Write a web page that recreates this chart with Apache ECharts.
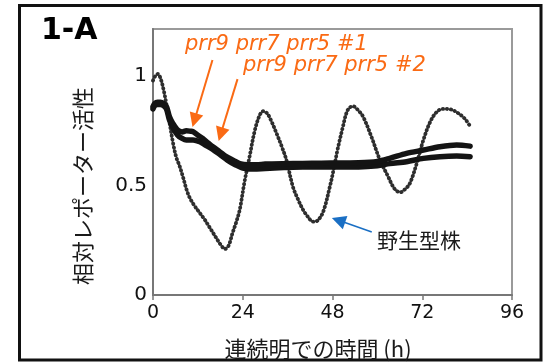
<!DOCTYPE html>
<html>
<head>
<meta charset="utf-8">
<script src="https://cdn.jsdelivr.net/npm/echarts@6/dist/echarts.min.js"></script>
<style>
html,body{margin:0;padding:0;background:#fff;}
#c{width:547px;height:362px;}
</style>
</head>
<body>
<div id="c"></div>
<script>
// x tick labels (hours in continuous light)
var xTicks = [0, 24, 48, 72, 96];
var yTicks = [0, 0.5, 1];

// Wild type (oscillating)
var wtT = [0, 0.6, 1.3, 2.0, 2.8, 3.6, 4.4, 5.3, 6.2, 7.1, 8.0, 9.0, 9.8, 11.0, 12.5, 13.8, 15.1, 16.2, 17.3, 18.3, 19.2, 20.2, 21.3, 22.3, 23.2, 24.5, 25.8, 27.2, 28.5, 29.5, 30.5, 31.5, 33.0, 34.5, 35.7, 37.4, 38.7, 40.1, 41.3, 42.8, 44.0, 45.5, 47.3, 48.5, 49.3, 50.8, 51.7, 52.5, 53.5, 54.8, 56.2, 58.4, 60.7, 62.9, 64.2, 65.2, 66.2, 67.5, 68.7, 70.5, 72.3, 74.1, 75.8, 77.5, 79.5, 81.2, 83.4, 84.8];
var wtV = [0.98, 1.0, 1.01, 0.99, 0.94, 0.87, 0.79, 0.70, 0.63, 0.59, 0.54, 0.48, 0.445, 0.41, 0.375, 0.345, 0.31, 0.28, 0.25, 0.225, 0.21, 0.225, 0.285, 0.335, 0.39, 0.52, 0.63, 0.75, 0.82, 0.84, 0.83, 0.80, 0.74, 0.675, 0.615, 0.495, 0.44, 0.39, 0.36, 0.335, 0.34, 0.38, 0.495, 0.59, 0.66, 0.77, 0.83, 0.855, 0.862, 0.845, 0.814, 0.723, 0.616, 0.54, 0.495, 0.475, 0.47, 0.485, 0.51, 0.60, 0.708, 0.79, 0.835, 0.85, 0.848, 0.835, 0.805, 0.77];

// prr9 prr7 prr5 #1
var m1T = [0, 0.5, 1.2, 2.0, 2.8, 3.6, 4.4, 5.3, 6.6, 7.8, 8.9, 10.0, 10.7, 12.0, 13.3, 14.7, 16.0, 17.8, 19.6, 21.5, 23.2, 25.5, 27.6, 30, 35, 40, 45, 50, 55, 60, 63.3, 67.8, 72.3, 76.7, 81.2, 84.8];
var m1V = [0.86, 0.875, 0.88, 0.88, 0.875, 0.86, 0.814, 0.784, 0.753, 0.745, 0.75, 0.748, 0.746, 0.73, 0.715, 0.695, 0.677, 0.655, 0.632, 0.615, 0.60, 0.595, 0.595, 0.598, 0.60, 0.601, 0.602, 0.603, 0.604, 0.61, 0.624, 0.647, 0.662, 0.677, 0.685, 0.68];

// prr9 prr7 prr5 #2
var m2T = [0, 0.5, 1.2, 2.0, 2.8, 3.6, 4.4, 5.3, 6.6, 7.8, 8.9, 10.7, 12.5, 14, 16, 18, 20, 22, 24, 27, 30, 35, 40, 45, 50, 55, 60, 63.3, 67.8, 72.3, 76.7, 81.2, 84.8];
var m2V = [0.85, 0.865, 0.87, 0.87, 0.865, 0.85, 0.80, 0.765, 0.73, 0.715, 0.708, 0.708, 0.70, 0.685, 0.665, 0.64, 0.615, 0.595, 0.58, 0.575, 0.578, 0.582, 0.585, 0.585, 0.585, 0.585, 0.59, 0.60, 0.609, 0.624, 0.632, 0.635, 0.632];

// annotation arrows [fromX, fromY, toX, toY, color] in data units
var arrows = [
  [15.9, 1.073, 11.1, 0.798, '#FA6A14'],
  [22.6, 0.986, 18.1, 0.734, '#FA6A14'],
  [58.5, 0.288, 49.6, 0.341, '#1A6FC4']
];

function pairs(t, v) { return t.map(function (x, i) { return [x, v[i]]; }); }

var chart = echarts.init(document.getElementById('c'), null, {renderer: 'canvas'});
var orange = '#FA6A14';
var opt = {
  animation: false,
  grid: {left: 153, right: 35, top: 29, bottom: 67, show: true, borderColor: '#9a9a9a', borderWidth: 2, backgroundColor: 'transparent'},
  xAxis: {
    type: 'value', min: xTicks[0], max: xTicks[xTicks.length - 1], interval: 24,
    axisLine: {show: true, lineStyle: {color: '#777', width: 2}},
    axisTick: {show: true, length: 5, lineStyle: {color: '#777', width: 1.5}},
    axisLabel: {color: '#111', fontSize: 19, fontFamily: 'DejaVu Sans', margin: 9,
      formatter: function (v) { return xTicks.indexOf(v) >= 0 ? String(v) : ''; }},
    splitLine: {show: false}
  },
  yAxis: {
    type: 'value', min: 0, max: 1.215, interval: 0.5,
    axisLine: {show: true, lineStyle: {color: '#777', width: 2}},
    axisTick: {show: false},
    axisLabel: {color: '#111', fontSize: 20, fontFamily: 'DejaVu Sans', margin: 6, showMaxLabel: false,
      formatter: function (v) { return yTicks.indexOf(v) >= 0 ? String(v) : ''; }},
    splitLine: {show: false}
  },
  series: [
    {type: 'line', name: '野生型株', data: pairs(wtT, wtV), smooth: 0.35, symbol: 'none', silent: true,
      lineStyle: {color: '#2e2e2e', width: 3.8, type: [0.4, 3.6], cap: 'round'}, z: 2},
    {type: 'line', name: 'prr9 prr7 prr5 #2', data: pairs(m2T, m2V), smooth: 0.3, symbol: 'none', silent: true,
      lineStyle: {color: '#141414', width: 5.5, cap: 'round', join: 'round'}, z: 3},
    {type: 'line', name: 'prr9 prr7 prr5 #1', data: pairs(m1T, m1V), smooth: 0.3, symbol: 'none', silent: true,
      lineStyle: {color: '#141414', width: 5.5, cap: 'round', join: 'round'}, z: 3},
    {type: 'line', data: [], silent: true, z: 5,
      markLine: {
        silent: true, animation: false,
        symbol: ['none', 'triangle'], symbolSize: 14,
        label: {show: false},
        emphasis: {disabled: true},
        data: arrows.map(function (a) {
          return [{coord: [a[0], a[1]], lineStyle: {color: a[4], width: a[4] === orange ? 2 : 1.6, type: 'solid'}, itemStyle: {color: a[4]}},
                  {coord: [a[2], a[3]]}];
        })
      }}
  ],
  graphic: [
    {type: 'rect', shape: {x: 19.5, y: 5.5, width: 521.5, height: 354.5}, style: {fill: 'none', stroke: '#111', lineWidth: 3}, silent: true},
    {type: 'text', x: 41, y: 31, style: {text: '1-A', font: 'bold 30px "DejaVu Sans"', fill: '#000', textAlign: 'left', textVerticalAlign: 'middle', align: 'left', verticalAlign: 'middle'}},
    {type: 'text', x: 185, y: 45, style: {text: 'prr9 prr7 prr5 #1', font: 'italic 21px "DejaVu Sans"', fill: orange, textAlign: 'left', textVerticalAlign: 'middle', align: 'left', verticalAlign: 'middle'}},
    {type: 'text', x: 243, y: 66, style: {text: 'prr9 prr7 prr5 #2', font: 'italic 21px "DejaVu Sans"', fill: orange, textAlign: 'left', textVerticalAlign: 'middle', align: 'left', verticalAlign: 'middle'}},
    {type: 'text', x: 377, y: 240, style: {text: '野生型株', font: '21px "Noto Sans CJK JP"', fill: '#1a1a1a', textAlign: 'left', textVerticalAlign: 'middle', align: 'left', verticalAlign: 'middle'}},
    {type: 'text', x: 318, y: 349, style: {text: '連続明での時間 (h)', font: '22px "Noto Sans CJK JP"', fill: '#1a1a1a', textAlign: 'center', textVerticalAlign: 'middle', align: 'center', verticalAlign: 'middle'}},
    {type: 'text', x: 83, y: 186, rotation: Math.PI / 2, style: {text: '相対レポーター活性', font: '22px "Noto Sans CJK JP"', fill: '#1a1a1a', textAlign: 'center', textVerticalAlign: 'middle', align: 'center', verticalAlign: 'middle'}}
  ]
};
chart.setOption(opt);
</script>
</body>
</html>
